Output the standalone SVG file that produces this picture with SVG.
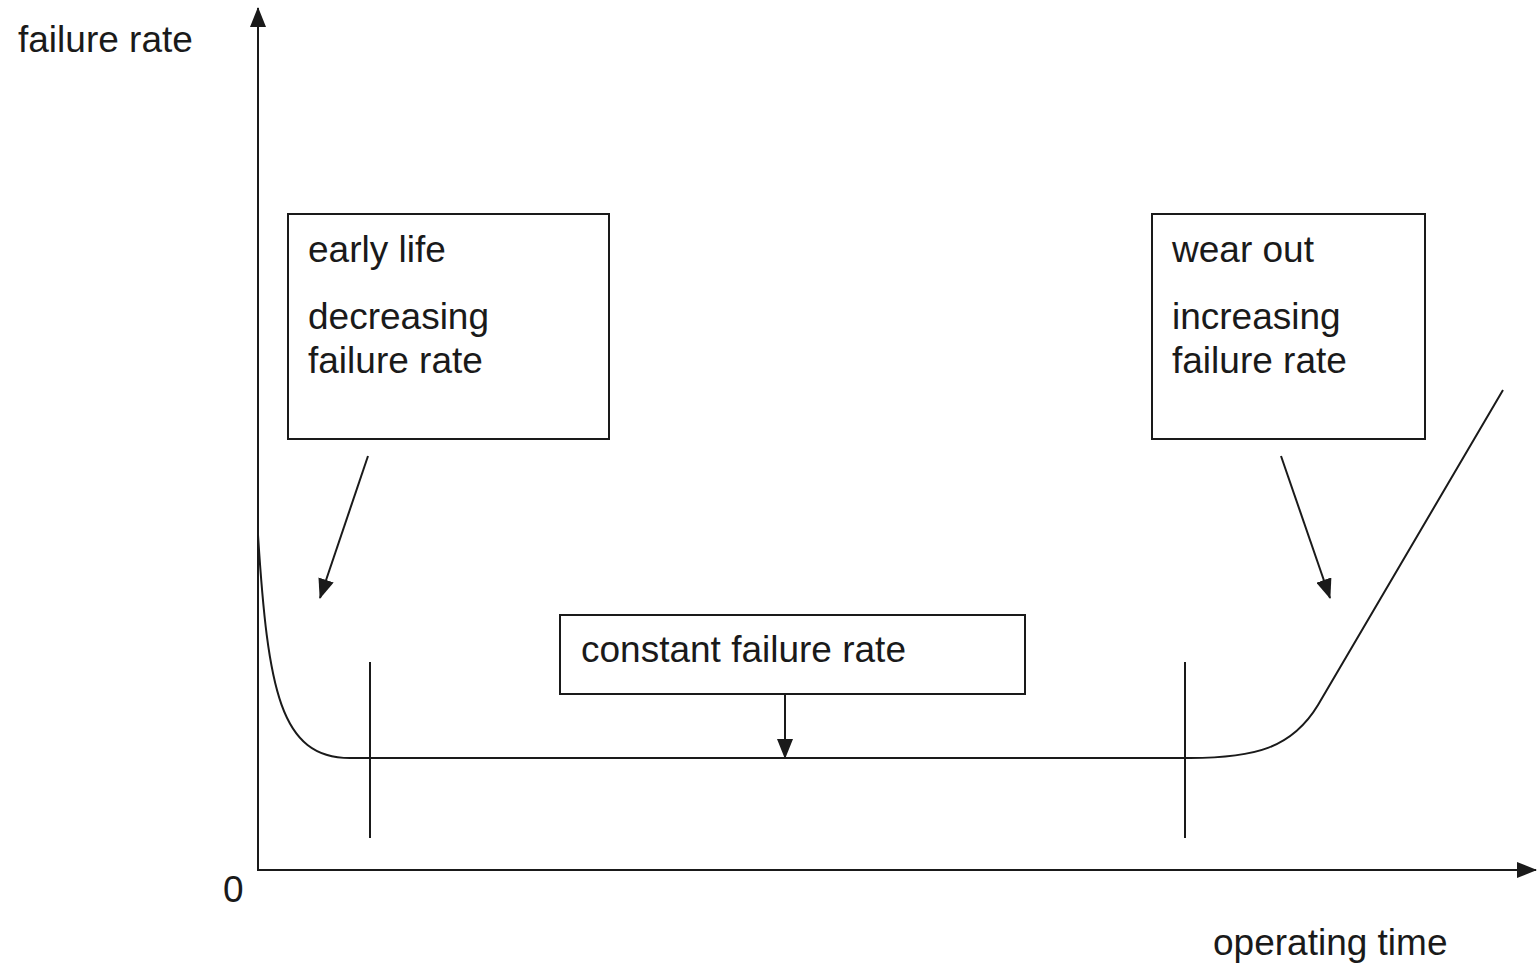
<svg xmlns="http://www.w3.org/2000/svg" width="1537" height="963" viewBox="0 0 1537 963">
<style>
.t{font-family:"Liberation Sans",Arial,sans-serif;font-size:37px;fill:#1a1a1a}
.ln{stroke:#1a1a1a;stroke-width:2;fill:none}
.box{stroke:#1a1a1a;stroke-width:2;fill:#fff}
</style>
<defs>
<marker id="ah" markerUnits="userSpaceOnUse" markerWidth="20" markerHeight="16" viewBox="0 0 20 16" refX="19" refY="8" orient="auto">
<path d="M0,0 L20,8 L0,16 Z" fill="#1a1a1a"/>
</marker>
</defs>
<rect width="1537" height="963" fill="#fff"/>
<g id="axes">
<line class="ln" x1="258" y1="870" x2="258" y2="8" marker-end="url(#ah)"/>
<line class="ln" x1="257" y1="870" x2="1536" y2="870" marker-end="url(#ah)"/>
<text class="t" x="18" y="52">failure rate</text>
<text class="t" x="223" y="902">0</text>
<text class="t" x="1213" y="955">operating time</text>
</g>
<g id="curve">
<path class="ln" d="M258,535 C268,690 280,758 350,758 L1190,758 C1255,758 1292,748 1318,705 L1503,390"/>
<line class="ln" x1="370" y1="662" x2="370" y2="838"/>
<line class="ln" x1="1185" y1="662" x2="1185" y2="838"/>
</g>
<g id="early-life">
<rect class="box" x="288" y="214" width="321" height="225"/>
<text class="t" x="308" y="262">early life</text>
<text class="t" x="308" y="329">decreasing</text>
<text class="t" x="308" y="373">failure rate</text>
</g>
<g id="wear-out">
<rect class="box" x="1152" y="214" width="273" height="225"/>
<text class="t" x="1172" y="262">wear out</text>
<text class="t" x="1172" y="329">increasing</text>
<text class="t" x="1172" y="373">failure rate</text>
</g>
<g id="constant">
<rect class="box" x="560" y="615" width="465" height="79"/>
<text class="t" x="581" y="662">constant failure rate</text>
</g>
<g id="connectors">
<line class="ln" x1="368" y1="456" x2="320" y2="598" marker-end="url(#ah)"/>
<line class="ln" x1="1281" y1="456" x2="1330" y2="598" marker-end="url(#ah)"/>
<line class="ln" x1="785" y1="694" x2="785" y2="758" marker-end="url(#ah)"/>
</g>
</svg>
